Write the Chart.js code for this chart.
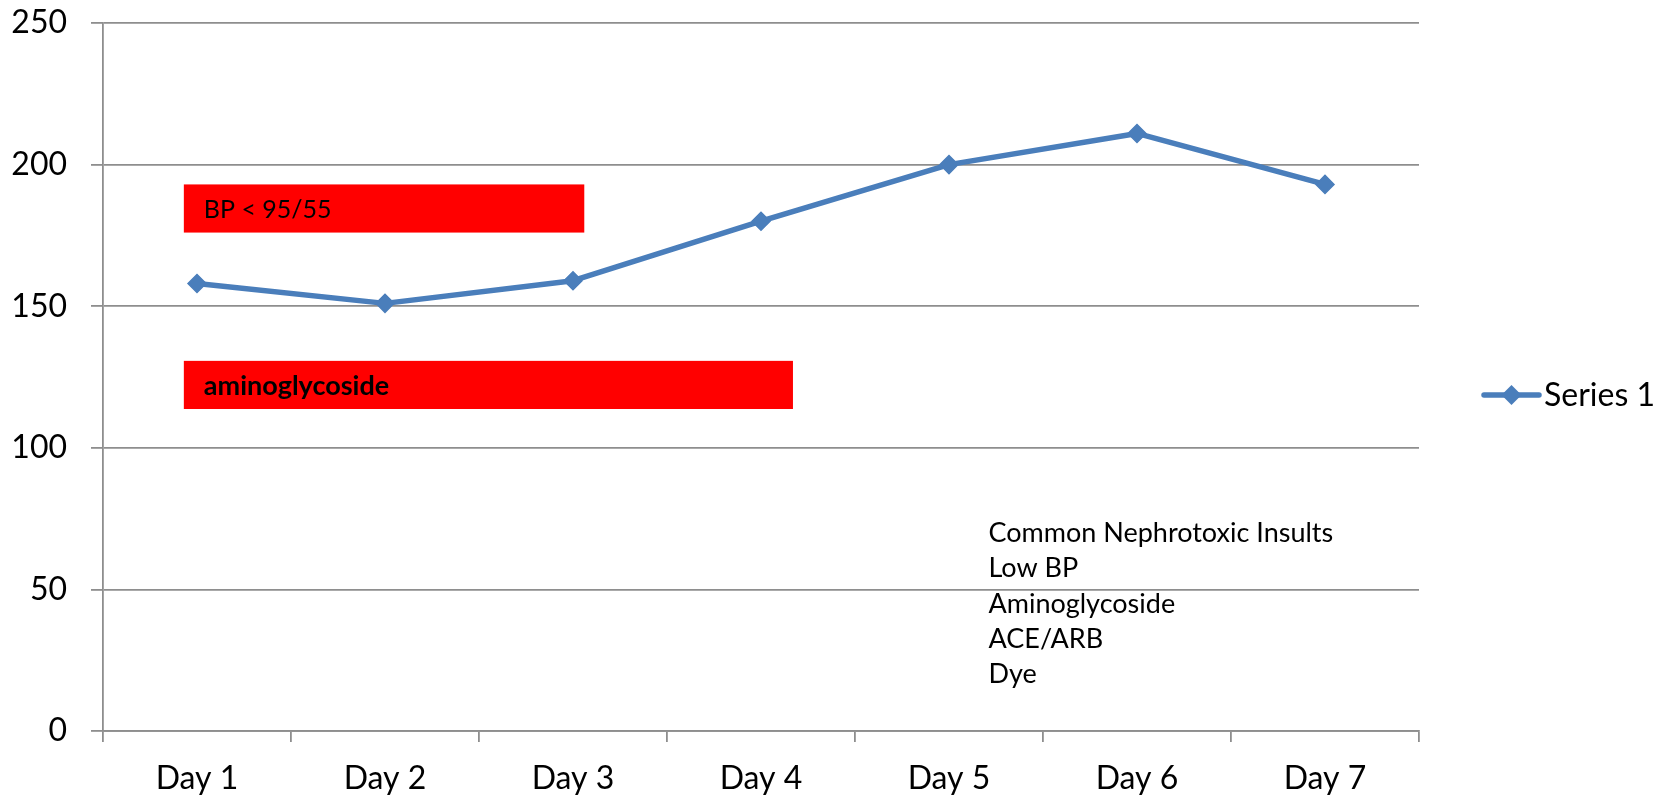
<!DOCTYPE html>
<html>
<head>
<meta charset="utf-8">
<script src="https://cdn.jsdelivr.net/npm/chart.js@4.4.0/dist/chart.umd.min.js"></script>
<style>
  html, body { margin: 0; padding: 0; background: #ffffff; }
  canvas { display: block; }
</style>
</head>
<body>
<canvas id="serumChart" width="1676" height="799"></canvas>
<script>
// categories and values
const days = ["Day 1", "Day 2", "Day 3", "Day 4", "Day 5", "Day 6", "Day 7"];
const series1 = [158, 151, 159, 180, 200, 211, 193];
const yTicks = [0, 50, 100, 150, 200, 250];
const seriesName = "Series 1";

// red bars across the days and the text box on the right
const barLabels = ["BP < 95/55", "aminoglycoside"];
const insultLines = ["Common Nephrotoxic Insults", "Low BP", "Aminoglycoside", "ACE/ARB", "Dye"];

const lineBlue = "#4a7ebb";
const gridGray = "#8e8e8e";

Chart.defaults.font.family = "Lato, 'Open Sans', sans-serif";
Chart.defaults.color = "#000000";

// red boxes, positioned in axis units (x = day index, y = value)
const redBoxes = [
    { text: barLabels[0], x0: -0.07, x1: 2.06, y0: 176, y1: 193, bold: false, size: 25 },
    { text: barLabels[1], x0: -0.07, x1: 3.17, y0: 113.7, y1: 130.7, bold: true, size: 27 },
];

const notesPlugin = {
    id: "notes",
    beforeDatasetsDraw(chart) {
        const { ctx, scales: { x, y } } = chart;
        ctx.save();
        redBoxes.forEach(b => {
            const left = x.getPixelForValue(b.x0);
            const right = x.getPixelForValue(b.x1);
            const top = y.getPixelForValue(b.y1);
            const bottom = y.getPixelForValue(b.y0);
            ctx.fillStyle = "#ff0000";
            ctx.fillRect(left, top, right - left, bottom - top);
            ctx.fillStyle = "#000000";
            ctx.font = (b.bold ? "bold " : "") + b.size + "px Lato, 'Open Sans', sans-serif";
            ctx.textBaseline = "middle";
            ctx.textAlign = "left";
            ctx.fillText(b.text, left + 20, (top + bottom) / 2 + 1);
        });

        // text box with the list of insults
        const tx = x.getPixelForValue(4.21);
        let ty = y.getPixelForValue(69.8);
        ctx.font = "27px Lato, 'Open Sans', sans-serif";
        ctx.fillStyle = "#000000";
        insultLines.forEach(line => {
            ctx.fillText(line, tx, ty);
            ty += 35.3;
        });
        ctx.restore();
    },
    afterDraw(chart) {
        // legend: line with diamond marker and the series name
        const { ctx, chartArea } = chart;
        const lx = chartArea.right + 65;
        const ly = 395;
        ctx.save();
        ctx.strokeStyle = lineBlue;
        ctx.lineWidth = 5.5;
        ctx.lineCap = "round";
        ctx.beginPath();
        ctx.moveTo(lx, ly);
        ctx.lineTo(lx + 55, ly);
        ctx.stroke();
        ctx.fillStyle = lineBlue;
        ctx.beginPath();
        ctx.moveTo(lx + 27.5 - 10, ly);
        ctx.lineTo(lx + 27.5, ly - 10);
        ctx.lineTo(lx + 27.5 + 10, ly);
        ctx.lineTo(lx + 27.5, ly + 10);
        ctx.closePath();
        ctx.fill();
        ctx.fillStyle = "#000000";
        ctx.font = "32px Lato, 'Open Sans', sans-serif";
        ctx.textBaseline = "middle";
        ctx.fillText(chart.data.datasets[0].label, lx + 60, ly + 1);
        ctx.restore();
    }
};

const ctx = document.getElementById("serumChart").getContext("2d");
const serumChart = new Chart(ctx, {
    type: "line",
    data: {
        labels: days,
        datasets: [{
            label: seriesName,
            data: series1,
            borderColor: lineBlue,
            backgroundColor: lineBlue,
            borderWidth: 5.5,
            borderJoinStyle: "round",
            borderCapStyle: "round",
            pointStyle: "rectRot",
            pointRadius: 9,
            pointBorderWidth: 1.5,
            pointBackgroundColor: lineBlue,
            pointBorderColor: lineBlue,
            tension: 0,
        }],
    },
    options: {
        responsive: false,
        animation: false,
        layout: {
            padding: { top: 23, right: 257, bottom: 0, left: 0 },
        },
        plugins: {
            legend: { display: false },
            tooltip: { enabled: false },
        },
        scales: {
            x: {
                offset: true,
                grid: {
                    offset: true,
                    drawOnChartArea: false,
                    drawTicks: true,
                    tickLength: 11,
                    color: gridGray,
                    lineWidth: 1.8,
                },
                border: { color: gridGray, width: 1.8 },
                ticks: {
                    font: { size: 32 },
                    padding: 17,
                    maxRotation: 0,
                },
                afterFit(scale) { scale.height = 68; },
            },
            y: {
                min: 0,
                max: 250,
                afterBuildTicks(scale) {
                    scale.ticks = yTicks.map(v => ({ value: v }));
                },
                grid: {
                    color: gridGray,
                    lineWidth: 1.8,
                    tickLength: 12,
                },
                border: { color: gridGray, width: 1.8 },
                ticks: {
                    font: { size: 32 },
                    padding: 24,
                },
                afterFit(scale) {
                    // label padding would otherwise push the plot area down
                    scale.width = 103;
                    scale.paddingTop = 0;
                    scale.paddingBottom = 0;
                },
            },
        },
    },
    plugins: [notesPlugin],
});
</script>
</body>
</html>
